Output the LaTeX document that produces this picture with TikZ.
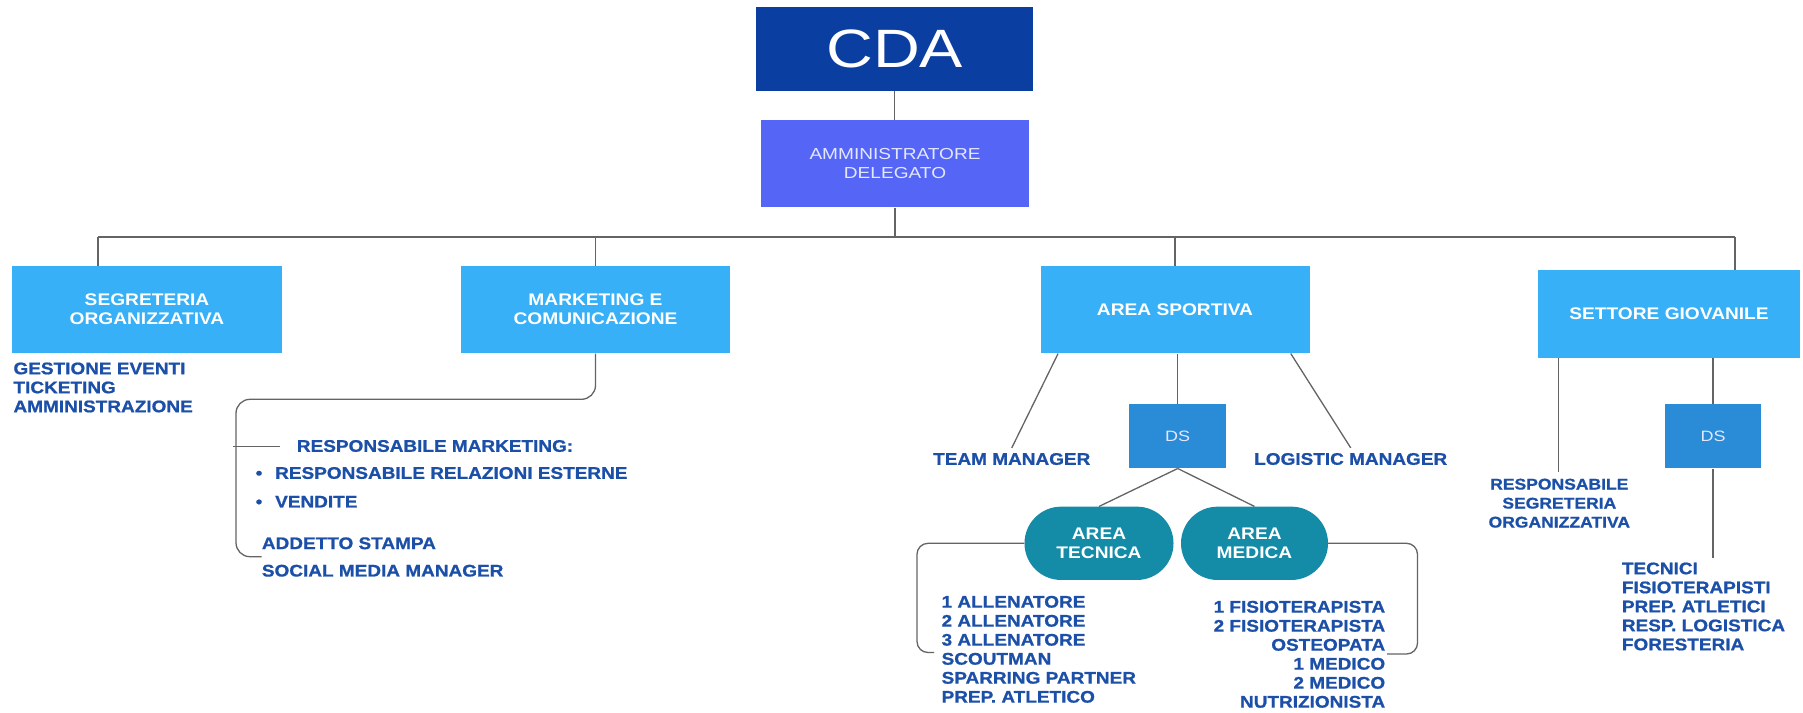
\documentclass[tikz,border=0pt]{standalone}
\usepackage{fontspec}
\setmainfont{Liberation Sans}
\newfontfamily\boldw[FakeStretch=1.14]{Liberation Sans}
\newfontfamily\heavyw[FakeStretch=1.13, BoldFeatures={FakeBold=0.9}]{Liberation Sans}
\newfontfamily\regw[FakeStretch=1.2]{Liberation Sans}
\newcommand\setfs[1]{\fontsize{#1}{19}\selectfont}
\definecolor{cdablue}{RGB}{10,62,160}
\definecolor{adblue}{RGB}{85,101,246}
\definecolor{lblue}{RGB}{56,176,248}
\definecolor{dsblue}{RGB}{42,140,214}
\definecolor{tealc}{RGB}{20,140,168}
\definecolor{tblue}{RGB}{28,80,168}
\definecolor{lgray}{RGB}{100,100,100}
\definecolor{ltxt}{RGB}{228,232,255}
\tikzset{
  lbox/.style={rectangle, fill=lblue, inner sep=0pt, text=white, font=\boldw\bfseries\setfs{16.8}, align=center},
  dsbox/.style={rectangle, fill=dsblue, inner sep=0pt, text=ltxt, font=\regw\setfs{15}, minimum width=96.7pt, minimum height=64pt},
  stad/.style={rectangle, rounded corners=36.6pt, fill=tealc, inner sep=0pt, text=white, font=\boldw\bfseries\setfs{16.8}, align=center, minimum height=73.3pt},
  lst/.style={inner sep=0pt, text=tblue, font=\heavyw\bfseries\setfs{16.8}},
  con/.style={draw=lgray, line width=1.3pt},
}
\begin{document}
\begin{tikzpicture}[x=1pt,y=-1pt]
\fill[white] (0,0) rectangle (1803,712);
\useasboundingbox (0,0) rectangle (1803,712);

% top
\node[rectangle, fill=cdablue, inner sep=0pt, minimum width=277.3pt, minimum height=83.7pt, text=white, font=\regw\fontsize{54}{60}\selectfont] (cda) at (894.7,49.2) {CDA};
\node[rectangle, fill=adblue, inner sep=0pt, minimum width=268.6pt, minimum height=87.3pt, text=ltxt, font=\regw\setfs{15.9}, align=center] (ad) at (895,163.7) {AMMINISTRATORE\\DELEGATO};

% level 2
\node[lbox, minimum width=269.4pt, minimum height=87.6pt] (seg) at (147,309.5) {SEGRETERIA\\ORGANIZZATIVA};
\node[lbox, minimum width=268.5pt, minimum height=87.6pt] (mk) at (595.5,309.5) {MARKETING E\\COMUNICAZIONE};
\node[lbox, minimum width=269pt, minimum height=87.6pt] (as) at (1175,309.5) {AREA SPORTIVA};
\node[lbox, minimum width=262.3pt, minimum height=87.7pt] (sg) at (1669,313.9) {SETTORE GIOVANILE};

\coordinate (h1) at (98,237);
\coordinate (h2) at (595.5,237);
\coordinate (h3) at (1175,237);
\coordinate (h4) at (1735,237);

\draw[con] (cda.south) -- (cda.south |- ad.north);
\draw[con] (ad.south) -- (ad.south |- h1);
\draw[con] (h1) -- (h4);
\draw[con] (h1) -- (h1 |- seg.north);
\draw[con] (h2) -- (mk.north);
\draw[con] (h3) -- (as.north);
\draw[con] (h4) -- (h4 |- sg.north);

% segreteria list
\node[lst, anchor=north west, align=left] (segl) at (13.3,362.3) {GESTIONE EVENTI\\TICKETING\\AMMINISTRAZIONE};

% marketing group
\node[lst, anchor=west] (rm) at (296.7,446) {RESPONSABILE MARKETING:};
\node[lst, anchor=west] (b1) at (255.5,473) {\makebox[19.5pt][l]{•}RESPONSABILE RELAZIONI ESTERNE};
\node[lst, anchor=west] (b2) at (255.5,501.7) {\makebox[19.5pt][l]{•}VENDITE};
\node[lst, anchor=west] (stp) at (261.7,543.3) {ADDETTO STAMPA};
\node[lst, anchor=west] (smm) at (261.7,570.7) {SOCIAL MEDIA MANAGER};
\coordinate (mkA) at (595.5,399.3);
\coordinate (mkB) at (236,399.3);
\coordinate (mkC) at (236,556.7);
\coordinate (mkD) at (261.7,556.7);
\coordinate (tkA) at (233,446.7);
\coordinate (tkB) at (280,446.7);
\draw[con, rounded corners=14pt] (mk.south) -- (mkA) -- (mkB) -- (mkC) -- (mkD);
\draw[con] (tkA) -- (tkB);

% area sportiva
\node[lst, anchor=west] (tm) at (933,459) {TEAM MANAGER};
\node[lst, anchor=west] (lm) at (1254,459) {LOGISTIC MANAGER};
\node[dsbox] (ds1) at (1177.7,436.3) {DS};
\node[stad, minimum width=149pt] (at) at (1099,543.3) {AREA\\TECNICA};
\node[stad, minimum width=147pt] (am) at (1254.5,543.3) {AREA\\MEDICA};
\draw[con] ([xshift=17.8pt]as.south west) -- ([yshift=5pt]tm.north);
\draw[con] ([xshift=-19pt]as.south east) -- ([yshift=5pt]lm.north);
\draw[con] (ds1.north |- as.south) -- (ds1.north);
\draw[con] (ds1.south) -- (at.north);
\draw[con] (ds1.south) -- (am.north);

\node[lst, anchor=north west, align=left] (atl) at (941.4,595.7) {1 ALLENATORE\\2 ALLENATORE\\3 ALLENATORE\\SCOUTMAN\\SPARRING PARTNER\\PREP. ATLETICO};
\node[lst, anchor=north east, align=right] (aml) at (1385.4,600.7) {1 FISIOTERAPISTA\\2 FISIOTERAPISTA\\OSTEOPATA\\1 MEDICO\\2 MEDICO\\NUTRIZIONISTA};

\coordinate (lbA) at (917,543.3);
\coordinate (lbB) at (917,652.5);
\coordinate (lbC) at (934,652.5);
\coordinate (rbA) at (1417.5,543.3);
\coordinate (rbB) at (1417.5,654);
\coordinate (rbC) at (1387,654);
\draw[con, rounded corners=11pt] (at.west) -- (lbA) -- (lbB) -- (lbC);
\draw[con, rounded corners=11pt] (am.east) -- (rbA) -- (rbB) -- (rbC);

% settore giovanile
\node[dsbox] (ds2) at (1713,436.3) {DS};
\coordinate (rsotop) at (1558.5,472);
\coordinate (tecend) at (1713,558.3);
\draw[con] (rsotop |- sg.south) -- (rsotop);
\draw[con] (ds2.north |- sg.south) -- (ds2.north);
\draw[con] (ds2.south) -- (tecend);
\node[lst, anchor=north, align=center, font=\heavyw\bfseries\setfs{15.5}] (rso) at (1559.3,478.5) {RESPONSABILE\\SEGRETERIA\\ORGANIZZATIVA};
\node[lst, anchor=north west, align=left] (tec) at (1621.7,562.3) {TECNICI\\FISIOTERAPISTI\\PREP. ATLETICI\\RESP. LOGISTICA\\FORESTERIA};
\end{tikzpicture}
\end{document}
